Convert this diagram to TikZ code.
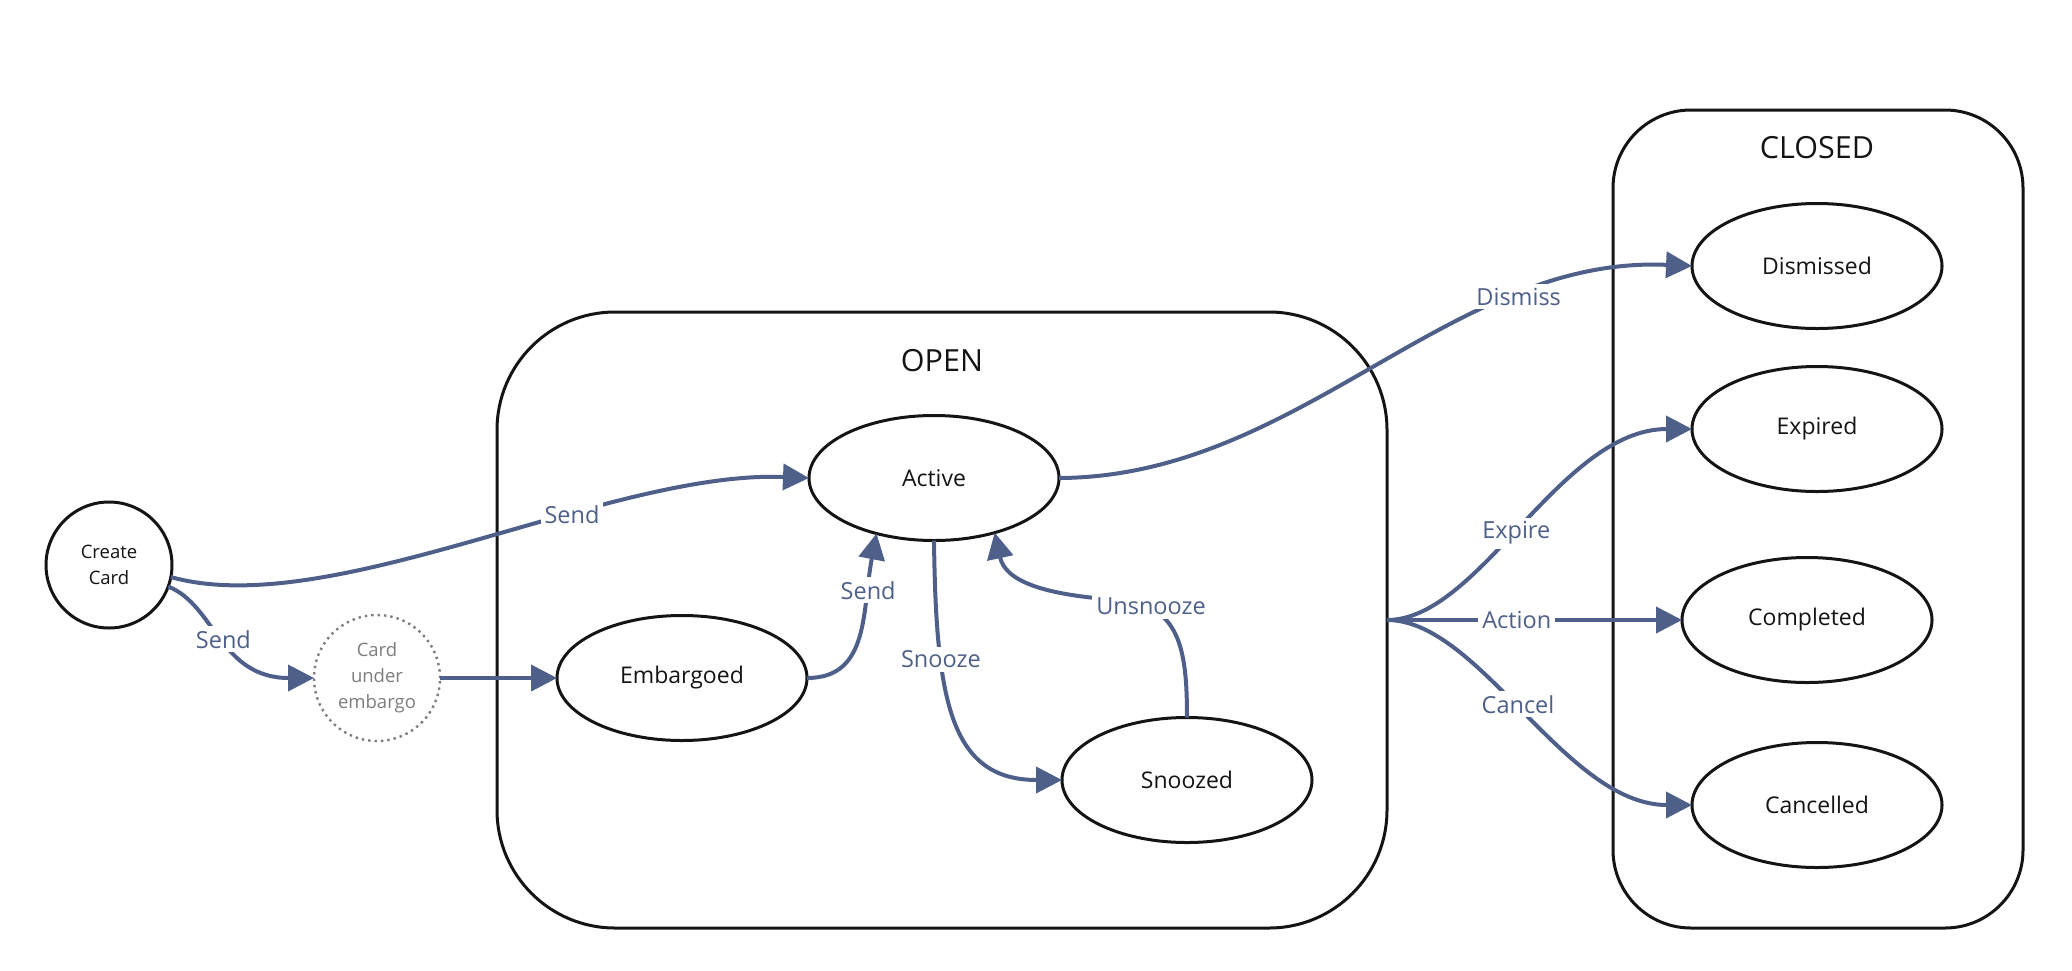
\documentclass[tikz,border=0pt]{standalone}
\usepackage{fontspec}
\setmainfont{Open Sans}
\usetikzlibrary{arrows.meta,shapes.geometric}
\definecolor{edgeblue}{RGB}{78,96,137}
\definecolor{dotgrey}{RGB}{125,125,125}
\definecolor{ink}{RGB}{20,20,20}
\begin{document}
\begin{tikzpicture}[x=1pt,y=-1pt,
  state/.style={ellipse,draw=ink,line width=3pt,minimum width=250pt,minimum height=125pt,inner sep=0pt,outer sep=0pt,text=ink,font=\fontsize{23}{27}\selectfont},
  circ/.style={circle,draw=ink,line width=3pt,minimum size=126pt,inner sep=0pt,outer sep=0pt,align=center,text=ink,font=\fontsize{18.5}{26}\selectfont},
  dcirc/.style={circle,draw=dotgrey,line width=2.4pt,dash pattern=on 2.4pt off 4pt,minimum size=126pt,inner sep=0pt,outer sep=0pt,align=center,text=dotgrey,font=\fontsize{18.5}{26}\selectfont},
  group/.style={draw=ink,line width=3pt,inner sep=0pt,outer sep=0pt},
  title/.style={text=ink,font=\fontsize{30.5}{36}\selectfont},
  trans/.style={draw=edgeblue,line width=4pt,-{Triangle[length=26pt,width=26pt]}},
  plain/.style={draw=edgeblue,line width=4pt},
  lbl/.style={fill=white,text=edgeblue,inner sep=4pt,font=\fontsize{23.5}{28}\selectfont}
]
\useasboundingbox (0,0) rectangle (2072,970);

% groups
\node[group, rounded corners=118pt, minimum width=890pt, minimum height=616pt] (open) at (942,620) {};
\node[title] (opent) at (942,361) {OPEN};
\node[group, rounded corners=78pt, minimum width=410pt, minimum height=818pt] (closed) at (1818,519) {};
\node[title] (closedt) at (1817,148) {CLOSED};

% states
\node[circ] (cc) at (109,565) {Create\\Card};
\node[dcirc] (cue) at (377,678) {Card\\under\\embargo};
\node[state] (act) at (934,478) {Active};
\node[state] (emb) at (682,678) {Embargoed};
\node[state] (snz) at (1187,780) {Snoozed};
\node[state] (dsm) at (1817,266) {Dismissed};
\node[state] (exp) at (1817,429) {Expired};
\node[state] (cmp) at (1807,620) {Completed};
\node[state] (cnc) at (1817,805) {Cancelled};

% transitions
\draw[trans] (cc.-11) .. controls (330,622) and (610,470) .. (act.west)
  node[lbl,pos=0.64] {Send};
\draw[trans] (cc.-20) .. controls (215,605) and (220,678) .. (cue.west)
  node[lbl,pos=0.5] {Send};
\draw[trans] (cue.east) -- (emb.west);
\draw[trans] (emb.east) .. controls (870,678) and (862,610) .. (act.-136)
  node[lbl,pos=0.74] {Send};
\draw[trans] (act.south) .. controls (936,700) and (950,780) .. (snz.west)
  node[lbl,pos=0.29] {Snooze};
\coordinate (unsn) at (1120,600);
\draw[plain] (snz.north) .. controls (1187,650) and (1180,605) .. (unsn);
\draw[trans] (unsn) .. controls (1040,595) and (1005,580) .. (act.-42);
\node[lbl] (unsnl) at (1151,606) {Unsnooze};
\draw[trans] (act.east) .. controls (1300,477) and (1450,255) .. (dsm.west)
  node[lbl,pos=0.74] {Dismiss};
\draw[trans] (open.east) .. controls (1480,620) and (1560,429) .. (exp.west)
  node[lbl,pos=0.47] {Expire};
\draw[trans] (open.east) -- (cmp.west)
  node[lbl,pos=0.44] {Action};
\draw[trans] (open.east) .. controls (1480,620) and (1565,805) .. (cnc.west)
  node[lbl,pos=0.47] {Cancel};
\end{tikzpicture}
\end{document}
